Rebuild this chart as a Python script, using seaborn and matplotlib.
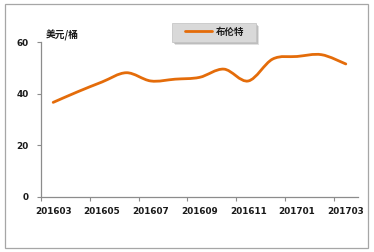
import numpy as np
import pandas as pd
import matplotlib
matplotlib.use("Agg")
import matplotlib.pyplot as plt
from matplotlib.path import Path
from matplotlib.patches import PathPatch, Rectangle
from matplotlib.lines import Line2D
import seaborn as sns

months = ["201603", "201604", "201605", "201606", "201607", "201608", "201609",
          "201610", "201611", "201612", "201701", "201702", "201703"]
brent = [36.7, 40.8, 44.6, 48.2, 45.0, 45.7, 46.4, 49.6, 45.0, 53.5, 54.5, 55.2, 51.6]
series_name = "布伦特"
unit_label = "美元/桶"
y_ticks = [0, 20, 40, 60]

sns.set_theme(style="white")
plt.rcParams['font.family'] = ['DejaVu Sans', 'Noto Sans CJK SC']

LINE_COLOR = "#E46C0A"
AXIS_COLOR = "#8c8c8c"
W, H = 374, 252

fig = plt.figure(figsize=(3.74, 2.52), dpi=100)
ax = fig.add_axes([41/W, 1 - 197/H, (358-41)/W, (197-42.3)/H])

df = pd.DataFrame({"x": np.arange(len(months)), "month": months, "value": brent})
sns.lineplot(data=df, x="x", y="value", ax=ax, color=LINE_COLOR, lw=2.0, legend=False)
base_line = ax.lines[0]
base_line.set_visible(False)

# smooth rendering (Excel-style smoothed line) through the data points
xs = df["x"].to_numpy(dtype=float)
ys = df["value"].to_numpy(dtype=float)
verts = [(xs[0], ys[0])]
codes = [Path.MOVETO]
n = len(xs)
for i in range(n - 1):
    p0 = np.array([xs[max(i-1, 0)], ys[max(i-1, 0)]])
    p1 = np.array([xs[i], ys[i]])
    p2 = np.array([xs[i+1], ys[i+1]])
    p3 = np.array([xs[min(i+2, n-1)], ys[min(i+2, n-1)]])
    c1 = p1 + (p2 - p0) / 6.0
    c2 = p2 - (p3 - p1) / 6.0
    verts += [tuple(c1), tuple(c2), tuple(p2)]
    codes += [Path.CURVE4] * 3
ax.add_patch(PathPatch(Path(verts, codes), facecolor="none", edgecolor=LINE_COLOR,
                       lw=2.0, capstyle="round", joinstyle="round"))

ax.set_xlim(-0.5, n - 0.5)
ax.set_ylim(0, 60)
ax.set_yticks(y_ticks)
ax.set_yticklabels([str(v) for v in y_ticks])
ax.set_xticks(np.arange(0, n, 2))
ax.set_xticklabels(months[::2])
ax.set_xticks(np.arange(-0.5, n - 1, 2), minor=True)
ax.tick_params(axis="x", which="major", length=0, pad=7)
ax.tick_params(axis="x", which="minor", length=3, width=0.8, color=AXIS_COLOR, direction="out", bottom=True)
ax.tick_params(axis="y", which="major", length=3, width=0.8, color=AXIS_COLOR, direction="out", left=True, pad=6)
for lab in ax.get_xticklabels() + ax.get_yticklabels():
    lab.set_fontsize(6.4)
    lab.set_fontweight("bold")
    lab.set_color("#1a1a1a")
ax.set_xlabel("")
ax.set_ylabel("")
for s in ["top", "right"]:
    ax.spines[s].set_visible(False)
for s in ["left", "bottom"]:
    ax.spines[s].set_color(AXIS_COLOR)
    ax.spines[s].set_linewidth(0.9)
ax.grid(False)

cjk = ["Noto Sans CJK SC", "DejaVu Sans"]
fig.text(46/W, 1 - 35/H, unit_label, fontsize=7.0, fontweight="bold",
         family=cjk, va="center", ha="left", color="#1a1a1a")

# legend box with soft shadow
bx0, by0, bx1, by1 = 172, 22.7, 256, 41.7
for off, a in [(3, 0.18), (2, 0.25), (1, 0.3)]:
    fig.patches.append(Rectangle(((bx0 + off)/W, 1 - (by1 + off)/H), (bx1 - bx0)/W, (by1 - by0)/H,
                                 transform=fig.transFigure, facecolor="#555555", edgecolor="none",
                                 alpha=a, figure=fig, zorder=1))
fig.patches.append(Rectangle((bx0/W, 1 - by1/H), (bx1 - bx0)/W, (by1 - by0)/H,
                             transform=fig.transFigure, facecolor="#d9d9d9", edgecolor="#c8c8c8",
                             lw=0.6, figure=fig, zorder=2))
handle = Line2D([], [], color=LINE_COLOR, lw=2.0)
leg = fig.legend([handle], [series_name], loc="center", bbox_to_anchor=(214.5/W, 1 - 31.5/H),
                 bbox_transform=fig.transFigure, frameon=False,
                 prop={"family": cjk, "weight": "bold", "size": 6.8},
                 handlelength=2.9, handletextpad=0.35, borderpad=0.3, borderaxespad=0)
leg.set_zorder(5)
for t in leg.get_texts():
    t.set_color("#1a1a1a")

fig.patches.append(Rectangle((5/W, 4/H), 363/W, 244/H, transform=fig.transFigure,
                             fill=False, edgecolor="#a6a6a6", lw=0.9, figure=fig))

fig.savefig("out.png", dpi=100)
